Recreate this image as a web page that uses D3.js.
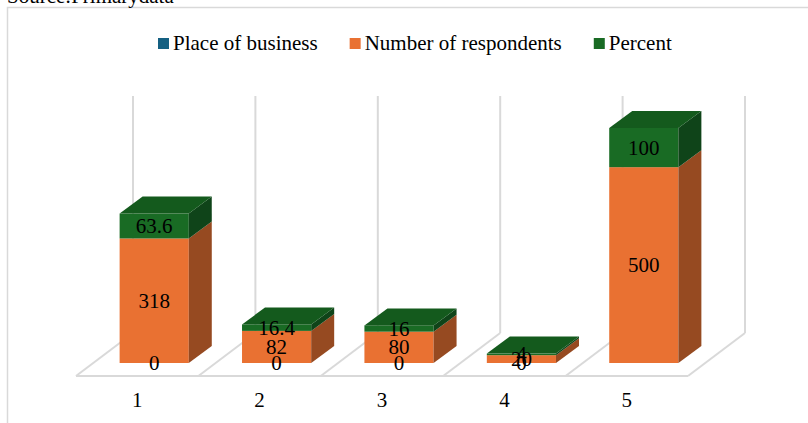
<!DOCTYPE html>
<html>
<head>
<meta charset="utf-8">
<script src="https://cdn.jsdelivr.net/npm/d3@7"></script>
<style>
  html, body { margin: 0; padding: 0; background: #fff; }
  svg { display: block; font-family: "Liberation Serif", "Times New Roman", serif; }
</style>
</head>
<body>
<svg id="chart" width="808" height="423"></svg>
<script>
// Categories and series values (null = no entry for that category)
const categories = ["1", "2", "3", "4", "5"];
const placeOfBusiness = [0, 0, 0, 0, null];
const respondents = [318, 82, 80, 20, 500];
const percent = [63.6, 16.4, 16, 4, 100];
const seriesNames = ["Place of business", "Number of respondents", "Percent"];
const yTicks = [0, 100, 200, 300, 400, 500, 600];

const colors = {
  front: ["#156082", "#E97132", "#196B24"],
  side:  ["#0D3B50", "#964A21", "#0F4419"],
  top:   ["#11506C", "#C25E28", "#145A1D"]
};

const svg = d3.select("#chart");
const W = 808, H = 423;

// Chart frame
svg.append("rect")
  .attr("x", 7.5).attr("y", 7.5).attr("width", W + 20).attr("height", H + 20)
  .attr("fill", "#fff").attr("stroke", "#D9D9D9").attr("stroke-width", 1.5);

// Source line (partly above the frame)
svg.append("text")
  .attr("x", 7).attr("y", 3)
  .attr("font-size", 21).attr("fill", "#000")
  .text("Source:Primarydata");

// 3D geometry: floor front edge, depth vectors
const floorY = 376;
const floorDepth = { dx: 57, dy: -43 };
const barDepth = { dx: 23, dy: -17 };
const barOffset = {
  dx: (floorDepth.dx - barDepth.dx) / 2,
  dy: (floorDepth.dy - barDepth.dy) / 2
};

const x = d3.scaleBand().domain(categories).range([76, 688]).paddingInner(0).paddingOuter(0);
const y = d3.scaleLinear().domain([0, 600]).range([0, 235]);
const barW = x.bandwidth() * 0.565;
const baseY = floorY + barOffset.dy;

// Back wall and floor gridlines
const grid = svg.append("g").attr("stroke", "#D9D9D9").attr("stroke-width", 2).attr("fill", "none");
const boundaries = d3.range(categories.length + 1).map(i => 76 + i * x.bandwidth());
const backBase = floorY + floorDepth.dy;
const wallTop = backBase - y(d3.max(yTicks)) - 2;
boundaries.forEach(bx => {
  grid.append("line")
    .attr("x1", bx + floorDepth.dx).attr("y1", backBase)
    .attr("x2", bx + floorDepth.dx).attr("y2", wallTop);
  grid.append("line")
    .attr("x1", bx).attr("y1", floorY)
    .attr("x2", bx + floorDepth.dx).attr("y2", backBase);
});
grid.append("line")
  .attr("x1", boundaries[0]).attr("y1", floorY)
  .attr("x2", boundaries[boundaries.length - 1]).attr("y2", floorY);

// Stack the series per category
const rows = categories.map((c, i) => ({ c, vals: [placeOfBusiness[i], respondents[i], percent[i]] }));

const bars = svg.append("g");
const labels = [];
rows.forEach(row => {
  const x0 = x(row.c) + barOffset.dx + (x.bandwidth() - barW) / 2;
  const x1 = x0 + barW;
  let acc = 0;
  const segs = row.vals.map((v, s) => {
    const val = v == null ? 0 : v;
    const seg = { s, v: val, missing: v == null, y0: baseY - y(acc), y1: baseY - y(acc + val) };
    acc += val;
    return seg;
  });
  const g = bars.append("g");
  segs.forEach((seg, k) => {
    if (seg.v > 0) {
      // front face
      g.append("rect")
        .attr("x", x0).attr("y", seg.y1)
        .attr("width", barW).attr("height", seg.y0 - seg.y1)
        .attr("fill", colors.front[seg.s]);
      // side face
      g.append("path")
        .attr("d", `M${x1},${seg.y0}L${x1 + barDepth.dx},${seg.y0 + barDepth.dy}` +
                   `L${x1 + barDepth.dx},${seg.y1 + barDepth.dy}L${x1},${seg.y1}Z`)
        .attr("fill", colors.side[seg.s]);
      // top face for the topmost visible segment
      const above = segs.slice(k + 1).some(o => o.v > 0);
      if (!above) {
        g.append("path")
          .attr("d", `M${x0},${seg.y1}L${x1},${seg.y1}L${x1 + barDepth.dx},${seg.y1 + barDepth.dy}` +
                     `L${x0 + barDepth.dx},${seg.y1 + barDepth.dy}Z`)
          .attr("fill", colors.top[seg.s]);
      }
    }
    if (!seg.missing) {
      labels.push({ x: (x0 + x1) / 2, y: (seg.y0 + seg.y1) / 2, text: d3.format("~g")(seg.v) });
    }
  });
});

// Data labels
svg.append("g").selectAll("text").data(labels).join("text")
  .attr("x", d => d.x).attr("y", d => d.y)
  .attr("text-anchor", "middle").attr("dominant-baseline", "central")
  .attr("font-size", 21).attr("fill", "#000")
  .text(d => d.text);

// Category labels
svg.append("g").selectAll("text").data(categories).join("text")
  .attr("x", d => x(d) + x.bandwidth() / 2).attr("y", 400)
  .attr("text-anchor", "middle").attr("dominant-baseline", "central")
  .attr("font-size", 21).attr("fill", "#000")
  .text(d => d);

// Legend
const legend = svg.append("g");
let lx = 158;
seriesNames.forEach((name, i) => {
  legend.append("rect")
    .attr("x", lx).attr("y", 38).attr("width", 11).attr("height", 11)
    .attr("fill", colors.front[i]);
  const t = legend.append("text")
    .attr("x", lx + 15).attr("y", 50)
    .attr("font-size", 21).attr("fill", "#000")
    .text(name);
  lx += 15 + t.node().getComputedTextLength() + 32;
});
</script>
</body>
</html>
